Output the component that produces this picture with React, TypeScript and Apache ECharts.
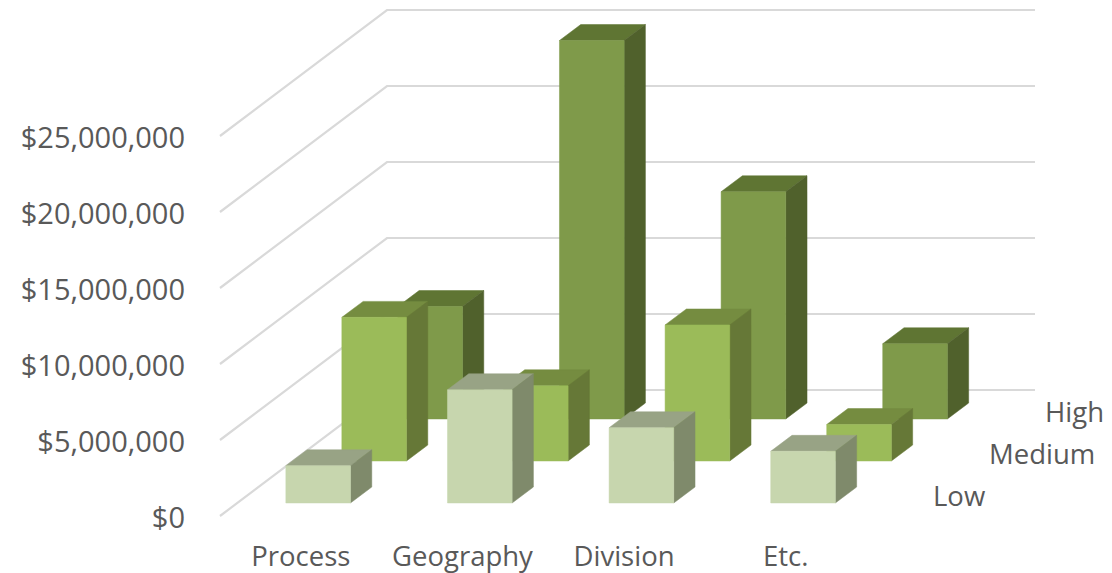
import React, { useEffect, useRef } from "react";
import * as echarts from "echarts";

const categories = ["Process", "Geography", "Division", "Etc."];
const depthLabels = ["Low", "Medium", "High"];
const lowValues = [2450000, 7450000, 4950000, 3400000];
const mediumValues = [9450000, 4950000, 8950000, 2400000];
const highValues = [7400000, 24900000, 14950000, 4950000];
const gridTicks = [0, 5000000, 10000000, 15000000, 20000000, 25000000];

const FONT = "'Open Sans', sans-serif";
const TEXT = "#595959";
const DEPTH_DX = 56; // screen shift per depth row
const DEPTH_DY = 42;
const FRONT_FRAC = 0.31;
const BAR_DEPTH = 0.38;
const BAR_WIDTH = 0.4;

const palette = [
  { front: "#C7D6AE", side: "#7F8A6B", top: "#98A385" },
  { front: "#9BBB59", side: "#667837", top: "#758C40" },
  { front: "#7F9A4A", side: "#50612C", top: "#5F7533" },
];

function barSeries(name: string, values: number[], row: number) {
  const c = palette[row];
  return {
    type: "custom",
    name,
    coordinateSystem: "cartesian2d",
    clip: false,
    data: values.map((v, i) => [i, v]),
    renderItem: (_p: any, api: any) => {
      const i = api.value(0);
      const base = api.coord([i, 0]);
      const top = api.coord([i, api.value(1)]);
      const band = api.size([1, 0])[0];
      const w = band * BAR_WIDTH;
      const ox = (row + FRONT_FRAC) * DEPTH_DX;
      const oy = (row + FRONT_FRAC) * DEPTH_DY;
      const dx = BAR_DEPTH * DEPTH_DX;
      const dy = BAR_DEPTH * DEPTH_DY;
      const l = base[0] + ox - w / 2;
      const r = l + w;
      const yb = base[1] - oy;
      const yt = top[1] - oy;
      const poly = (points: number[][], fill: string) => ({
        type: "polygon",
        shape: { points },
        style: { fill, stroke: fill, lineWidth: 0.5 },
      });
      return {
        type: "group",
        children: [
          poly([[l, yt], [r, yt], [r + dx, yt - dy], [l + dx, yt - dy]], c.top),
          poly([[r, yt], [r + dx, yt - dy], [r + dx, yb - dy], [r, yb]], c.side),
          poly([[l, yt], [r, yt], [r, yb], [l, yb]], c.front),
        ],
      };
    },
  };
}

export default function App() {
  const ref = useRef<HTMLDivElement>(null);
  useEffect(() => {
    const chart = echarts.init(ref.current!, undefined, { renderer: "svg" });
    chart.setOption({
      animation: false,
      backgroundColor: "#ffffff",
      grid: { left: 220, top: 136, width: 646.5, height: 380 },
      xAxis: {
        type: "category",
        data: categories,
        axisLine: { show: false },
        axisTick: { show: false },
        axisLabel: { interval: 0, color: TEXT, fontFamily: FONT, fontSize: 27.5, margin: 25 },
      },
      yAxis: {
        type: "value",
        min: 0,
        max: 25000000,
        interval: 5000000,
        axisLine: { show: false },
        axisTick: { show: false },
        splitLine: { show: false },
        axisLabel: {
          color: TEXT,
          fontFamily: FONT,
          fontSize: 29,
          margin: 35,
          formatter: (v: number) => "$" + v.toLocaleString("en-US"),
        },
      },
      series: [
        {
          type: "custom",
          name: "walls",
          coordinateSystem: "cartesian2d",
          clip: false,
          silent: true,
          data: gridTicks.map((v) => [0, v]),
          renderItem: (p: any, api: any) => {
            const y = api.coord([0, api.value(1)])[1];
            const x = p.coordSys.x;
            const w = p.coordSys.width + 1.5;
            const dx = DEPTH_DX * 3 - 1;
            const dy = DEPTH_DY * 3;
            return {
              type: "polyline",
              shape: { points: [[x, y], [x + dx, y - dy], [x + dx + w, y - dy]] },
              style: { stroke: "#D9D9D9", lineWidth: 2.2, fill: "none" },
            };
          },
        },
        barSeries("High", highValues, 2),
        barSeries("Medium", mediumValues, 1),
        barSeries("Low", lowValues, 0),
        {
          type: "custom",
          name: "depth",
          coordinateSystem: "cartesian2d",
          clip: false,
          silent: true,
          data: depthLabels.map((_, i) => [0, 0, i]),
          renderItem: (p: any, api: any) => {
            const row = api.value(2);
            const y0 = api.coord([0, 0])[1];
            return {
              type: "text",
              style: {
                text: depthLabels[row],
                x: p.coordSys.x + p.coordSys.width + 66.5 + row * DEPTH_DX,
                y: y0 - 21 - row * DEPTH_DY,
                align: "left",
                verticalAlign: "middle",
                fill: TEXT,
                fontFamily: FONT,
                fontSize: 27.5,
              },
            };
          },
        },
      ],
    });
    return () => chart.dispose();
  }, []);
  return <div ref={ref} style={{ position: "absolute", left: 0, top: 0, width: 1112, height: 573 }} />;
}
